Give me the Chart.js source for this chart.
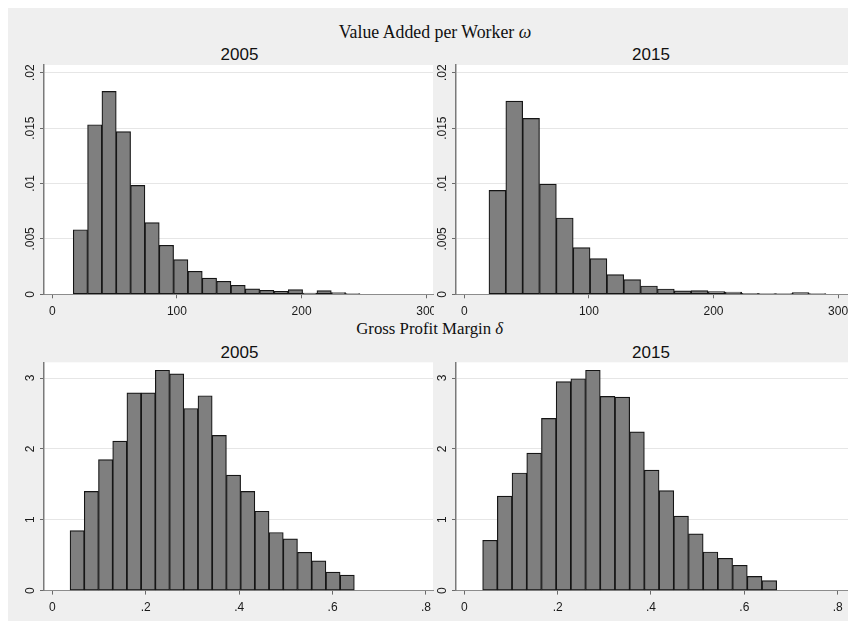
<!DOCTYPE html>
<html>
<head>
<meta charset="utf-8">
<script src="https://cdn.jsdelivr.net/npm/chart.js@4.4.1/dist/chart.umd.min.js"></script>
<style>
  html, body { margin: 0; padding: 0; background: #ffffff; }
  #frame { position: absolute; left: 8px; top: 8px; width: 840px; height: 613px; background: #efefef; }
  .panel { position: absolute; overflow: hidden; }
  .panel canvas { display: block; }
  .txt { position: absolute; width: 400px; text-align: center; white-space: nowrap; line-height: 1; color: #111; }
  .serif { font-family: "Liberation Serif", "Times New Roman", serif; }
  .sans { font-family: "Liberation Sans", Arial, sans-serif; font-size: 17px; }
</style>
</head>
<body>
<div id="frame"></div>

<div class="txt serif" style="left:235px; top:23.5px; font-size:17.8px;">Value Added per Worker <i>ω</i></div>
<div class="txt sans" style="left:39.5px; top:46px;">2005</div>
<div class="txt sans" style="left:451px; top:46px;">2015</div>

<div class="txt serif" style="left:229.7px; top:321px; font-size:16.8px;">Gross Profit Margin <i>δ</i></div>
<div class="txt sans" style="left:39.5px; top:343.5px;">2005</div>
<div class="txt sans" style="left:451px; top:343.5px;">2015</div>

<div class="panel" style="left:8px; top:60px; width:426px; height:258px;"><canvas id="omega2005" width="426" height="258"></canvas></div>
<div class="panel" style="left:434px; top:60px; width:414px; height:258px;"><canvas id="omega2015" width="414" height="258"></canvas></div>
<div class="panel" style="left:8px; top:357px; width:426px; height:264px;"><canvas id="delta2005" width="426" height="264"></canvas></div>
<div class="panel" style="left:434px; top:357px; width:414px; height:264px;"><canvas id="delta2015" width="414" height="264"></canvas></div>

<script>
// ---- Value added per worker (omega): histogram densities ----
const omegaXTicks  = [0, 100, 200, 300];
const omegaXLabels = ['0', '100', '200', '300'];
const omegaYTicks  = [0, 0.005, 0.01, 0.015, 0.02];
const omegaYLabels = ['0', '.005', '.01', '.015', '.02'];

// bins: lower edge of the first bin and the common bin width
const omega2005Start = 16.8;
const omega2005Width = 11.5;
const omega2005Density = [
  0.00583, 0.01531, 0.01832, 0.01468, 0.00983, 0.00647, 0.00442, 0.00313, 0.00208, 0.00147,
  0.00117, 0.00081, 0.00050, 0.00036, 0.00027, 0.00043, 0.00010, 0.00033, 0.00016, 0.00007
];

const omega2015Start = 19.8;
const omega2015Width = 13.52;
const omega2015Density = [
  0.00938, 0.01744, 0.01588, 0.00995, 0.00689, 0.00421, 0.00322, 0.00177, 0.00132, 0.00075,
  0.00048, 0.00031, 0.00034, 0.00025, 0.00020, 0.00009, 0.00006, 0.00006, 0.00015, 0.00006
];

// ---- Gross profit margin (delta): histogram densities ----
const deltaXTicks  = [0, 0.2, 0.4, 0.6, 0.8];
const deltaXLabels = ['0', '.2', '.4', '.6', '.8'];
const deltaYTicks  = [0, 1, 2, 3];
const deltaYLabels = ['0', '1', '2', '3'];

const delta2005Start = 0.038;
const delta2005Width = 0.03043;
const delta2005Density = [
  0.846, 1.40, 1.85, 2.11, 2.79, 2.79, 3.11, 3.06, 2.57, 2.75,
  2.19, 1.63, 1.40, 1.12, 0.82, 0.73, 0.54, 0.42, 0.26, 0.22
];

const delta2015Start = 0.0393;
const delta2015Width = 0.0315;
const delta2015Density = [
  0.71, 1.335, 1.66, 1.94, 2.43, 2.95, 2.99, 3.11, 2.74, 2.73,
  2.24, 1.70, 1.41, 1.05, 0.80, 0.545, 0.456, 0.357, 0.20, 0.14
];

const SANS = '"Liberation Sans", Arial, sans-serif';

// white plot region behind the bars
const plotRegion = {
  id: 'plotRegion',
  beforeDraw(chart) {
    const { ctx, chartArea: a } = chart;
    ctx.save();
    ctx.fillStyle = '#ffffff';
    ctx.fillRect(a.left, a.top, a.right - a.left, a.bottom - a.top);
    ctx.restore();
  }
};

function histogram(id, p) {
  const points = p.density.map((d, i) => ({ x: p.start + p.width * (i + 0.5), y: d }));
  return new Chart(document.getElementById(id), {
    type: 'bar',
    data: {
      datasets: [{
        data: points,
        backgroundColor: '#7f7f7f',
        borderColor: '#151515',
        borderWidth: 1.2,
        borderSkipped: false,
        barPercentage: 1,
        categoryPercentage: 1
      }]
    },
    options: {
      responsive: false,
      animation: false,
      devicePixelRatio: 1,
      layout: { padding: { top: p.padTop, right: p.padRight, bottom: 0, left: 0 } },
      plugins: { legend: { display: false }, tooltip: { enabled: false }, title: { display: false } },
      scales: {
        x: {
          type: 'linear',
          min: p.xMin,
          max: p.xMax,
          offset: false,
          afterBuildTicks: s => { s.ticks = p.xTicks.map(v => ({ value: v })); },
          afterFit: s => { s.height = p.xHeight; s.paddingLeft = 0; s.paddingRight = 0; },
          ticks: {
            autoSkip: false, maxRotation: 0, minRotation: 0, padding: 6,
            color: '#1a1a1a', font: { family: SANS, size: 12 },
            callback: (v, i) => p.xLabels[i]
          },
          grid: { display: true, offset: false, drawOnChartArea: false, drawTicks: true, tickLength: 4, tickColor: '#6a6a6a', tickWidth: 1 },
          border: { display: true, color: '#8c8c8c', width: 1 }
        },
        y: {
          type: 'linear',
          min: 0,
          max: p.yMax,
          afterBuildTicks: s => { s.ticks = p.yTicks.map(v => ({ value: v })); },
          afterFit: s => { s.width = p.yWidth; s.paddingTop = 0; s.paddingBottom = 0; },
          ticks: {
            autoSkip: false, minRotation: 90, maxRotation: 90, crossAlign: 'center', padding: p.yPad,
            color: '#1a1a1a', font: { family: SANS, size: 12 },
            callback: (v, i) => p.yLabels[i]
          },
          grid: { display: true, color: '#e6e6e6', lineWidth: 1, drawTicks: true, tickLength: 4, tickColor: '#6a6a6a', tickWidth: 1 },
          border: { display: true, color: '#7a7a7a', width: 1.5 }
        }
      }
    },
    plugins: [plotRegion]
  });
}

histogram('omega2005', {
  start: omega2005Start, width: omega2005Width, density: omega2005Density,
  xTicks: omegaXTicks, xLabels: omegaXLabels, yTicks: omegaYTicks, yLabels: omegaYLabels,
  xMin: -6.66, xMax: 305.4, yMax: 0.0207,
  padTop: 5, padRight: 1, yWidth: 36, xHeight: 23.7, yPad: -2.67
});
histogram('omega2015', {
  start: omega2015Start, width: omega2015Width, density: omega2015Density,
  xTicks: omegaXTicks, xLabels: omegaXLabels, yTicks: omegaYTicks, yLabels: omegaYLabels,
  xMin: -6.66, xMax: 307.95, yMax: 0.0207,
  padTop: 5, padRight: 0, yWidth: 22, xHeight: 23.7, yPad: -2.67
});
histogram('delta2005', {
  start: delta2005Start, width: delta2005Width, density: delta2005Density,
  xTicks: deltaXTicks, xLabels: deltaXLabels, yTicks: deltaYTicks, yLabels: deltaYLabels,
  xMin: -0.01777, xMax: 0.815, yMax: 3.222,
  padTop: 5.3, padRight: 1, yWidth: 36, xHeight: 30.4, yPad: 5.66
});
histogram('delta2015', {
  start: delta2015Start, width: delta2015Width, density: delta2015Density,
  xTicks: deltaXTicks, xLabels: deltaXLabels, yTicks: deltaYTicks, yLabels: deltaYLabels,
  xMin: -0.01778, xMax: 0.8221, yMax: 3.222,
  padTop: 5.3, padRight: 0, yWidth: 22, xHeight: 30.4, yPad: 5.66
});
</script>
</body>
</html>
